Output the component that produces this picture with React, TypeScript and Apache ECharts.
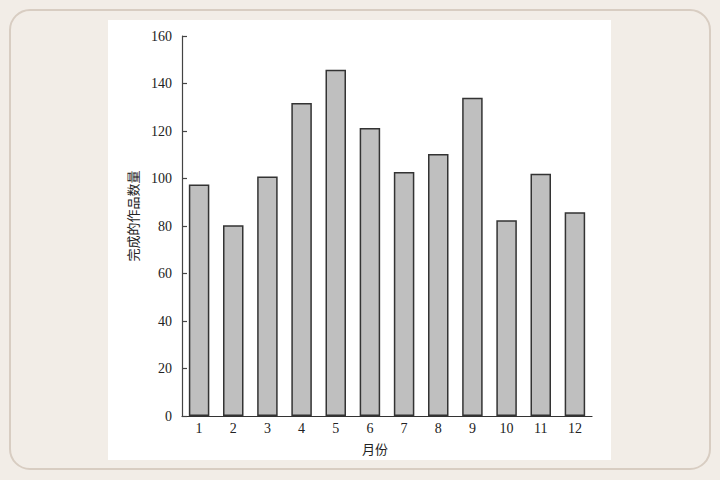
import React, { useEffect, useRef } from "react";
import * as echarts from "echarts";

const months = ["1", "2", "3", "4", "5", "6", "7", "8", "9", "10", "11", "12"];
const counts = [97.5, 80.3, 100.8, 131.8, 145.8, 121.3, 102.7, 110.3, 134, 82.4, 102, 85.8];
const xName = "月份";
const yName = "完成的作品数量";

const FONT = "'Liberation Serif', 'Noto Sans CJK SC', serif";

export default function App() {
  const ref = useRef<HTMLDivElement>(null);
  useEffect(() => {
    if (!ref.current) return;
    const chart = echarts.init(ref.current, undefined, { renderer: "svg" });
    chart.setOption({
      animation: false,
      backgroundColor: "#f2ede7",
      graphic: [
        {
          type: "rect",
          z: -10,
          silent: true,
          shape: { x: 10, y: 10, width: 700, height: 459, r: 20 },
          style: { fill: "#f2ede7", stroke: "#d8cdc2", lineWidth: 2 },
        },
        {
          type: "rect",
          z: -9,
          silent: true,
          shape: { x: 108, y: 20, width: 503, height: 440 },
          style: { fill: "#ffffff" },
        },
      ],
      grid: { left: 182, top: 36, right: 128, bottom: 64, containLabel: false },
      xAxis: {
        type: "category",
        data: months,
        name: xName,
        nameLocation: "middle",
        nameGap: 27,
        nameTextStyle: { fontFamily: FONT, fontSize: 13, color: "#222", padding: [0, 24, 0, 0] },
        axisLine: { show: true, lineStyle: { color: "#333", width: 1.2 } },
        axisTick: { show: false },
        axisLabel: { fontFamily: FONT, fontSize: 14, color: "#222", margin: 5 },
      },
      yAxis: {
        type: "value",
        min: 0,
        max: 160,
        interval: 20,
        name: yName,
        nameLocation: "middle",
        nameRotate: 90,
        nameGap: 33,
        nameTextStyle: { fontFamily: FONT, fontSize: 13, color: "#222", padding: [0, 0, 0, 20] },
        axisLine: { show: true, lineStyle: { color: "#444", width: 1.2 } },
        axisTick: { show: true, inside: true, length: 5, lineStyle: { color: "#444", width: 1.2 } },
        axisLabel: { fontFamily: FONT, fontSize: 14, color: "#222", margin: 10 },
        splitLine: { show: false },
      },
      series: [
        {
          type: "bar",
          data: counts,
          barCategoryGap: "40%",
          itemStyle: { color: "#bfbfbf", borderColor: "#333", borderWidth: 1.5 },
        },
      ],
    });
    return () => chart.dispose();
  }, []);
  return (
    <div
      ref={ref}
      style={{ position: "fixed", left: 0, top: 0, width: 720, height: 480 }}
    />
  );
}
